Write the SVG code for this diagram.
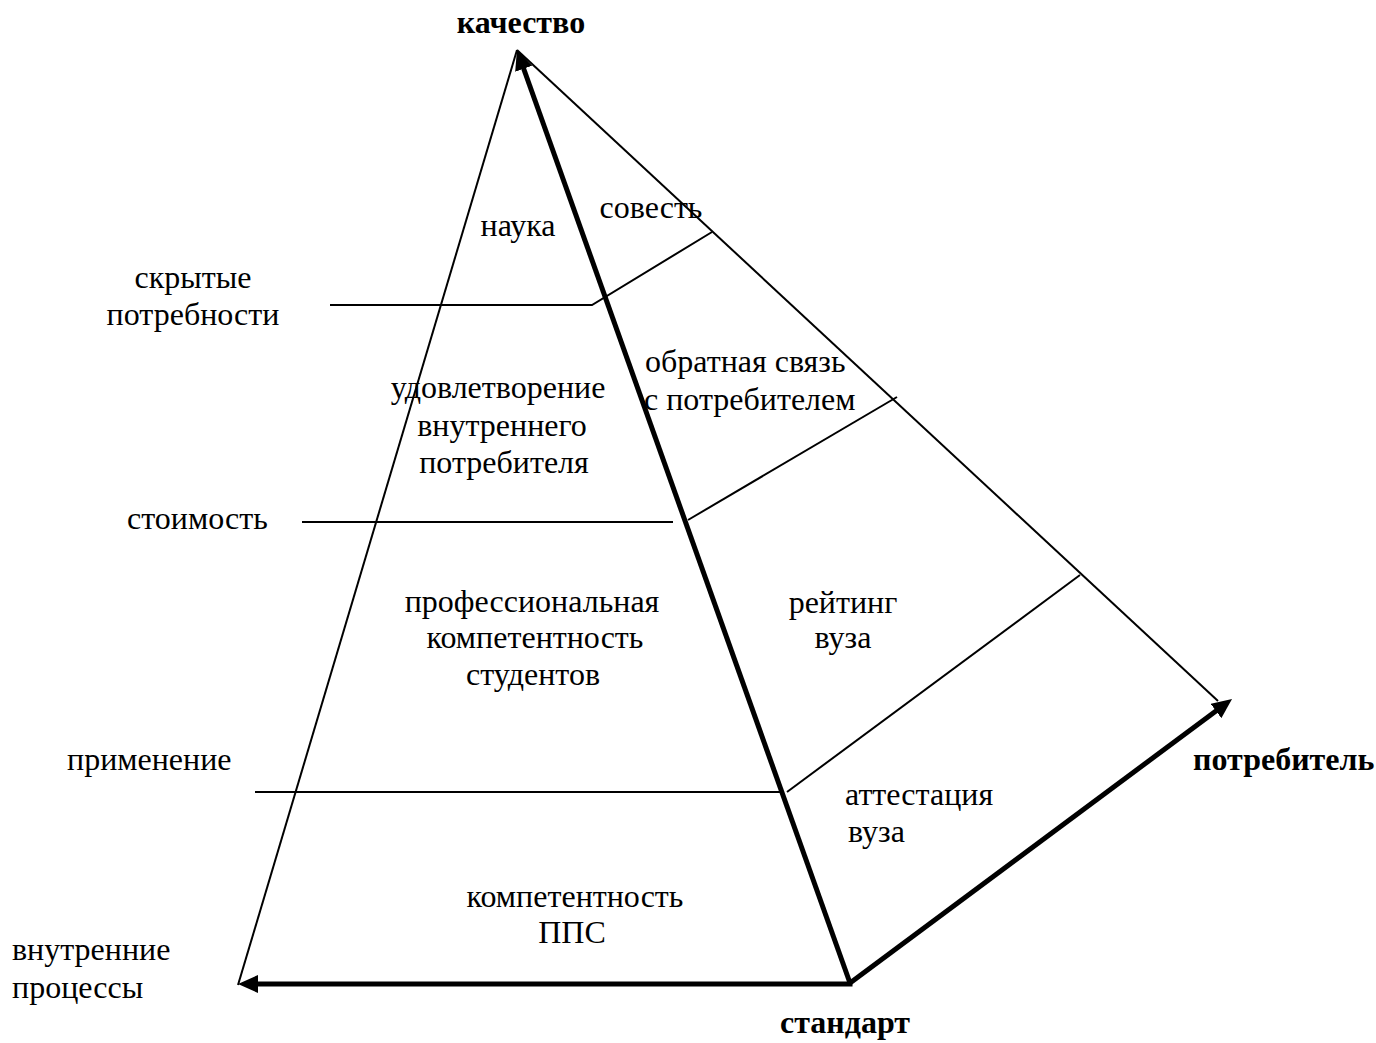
<svg xmlns="http://www.w3.org/2000/svg" width="1376" height="1043" viewBox="0 0 1376 1043">
<style>
text{font-family:"Liberation Serif","Times New Roman",serif;font-size:32px;fill:#000}
.b{font-weight:bold}
.c{text-anchor:middle}
.thin{stroke:#000;stroke-width:2;fill:none}
.thick{stroke:#000;stroke-width:5;fill:none;marker-end:url(#ah)}
</style>
<defs>
<marker id="ah" markerUnits="userSpaceOnUse" markerWidth="20" markerHeight="18" refX="5" refY="9" orient="auto">
<path d="M0,0 L20,9 L0,18 z" fill="#000"/>
</marker>
</defs>
<rect width="1376" height="1043" fill="#fff"/>
<g id="connectors">
<line class="thin" x1="517" y1="50" x2="238" y2="985"/>
<line class="thin" x1="517" y1="50" x2="1218" y2="701"/>
<polyline class="thin" points="330,305 592,305 712,232"/>
<line class="thin" x1="302" y1="522" x2="673" y2="522"/>
<line class="thin" x1="688" y1="520" x2="897" y2="397"/>
<line class="thin" x1="255" y1="792" x2="783" y2="792"/>
<line class="thin" x1="787" y1="792" x2="1080" y2="575"/>
<line class="thick" x1="850" y1="983" x2="522" y2="64"/>
<line class="thick" x1="850" y1="983" x2="1220" y2="708"/>
<polyline class="thick" points="850,983 850,984 253,984" style="stroke-linejoin:miter"/>
</g>
<g id="axis-kachestvo"><text class="b c" x="521" y="33">качество</text></g>
<g id="axis-potrebitel"><text class="b" x="1193" y="770">потребитель</text></g>
<g id="axis-standart"><text class="b c" x="845" y="1033">стандарт</text></g>
<g id="axis-vnutr"><text x="12" y="960">внутренние</text><text x="12" y="998">процессы</text></g>
<g id="lvl-skrytye"><text class="c" x="193" y="288">скрытые</text><text class="c" x="193" y="325">потребности</text></g>
<g id="lvl-stoimost"><text x="127" y="529">стоимость</text></g>
<g id="lvl-primenenie"><text x="67" y="770">применение</text></g>
<g id="n-nauka"><text class="c" x="518" y="236">наука</text></g>
<g id="n-sovest"><text class="c" x="651" y="218">совесть</text></g>
<g id="n-udovl"><text class="c" x="498" y="398">удовлетворение</text><text class="c" x="502" y="436">внутреннего</text><text class="c" x="504" y="473">потребителя</text></g>
<g id="n-obratnaya"><text x="645" y="372">обратная связь</text><text x="644" y="410">с потребителем</text></g>
<g id="n-prof"><text class="c" x="532" y="612">профессиональная</text><text class="c" x="535" y="648">компетентность</text><text class="c" x="533" y="685">студентов</text></g>
<g id="n-reiting"><text class="c" x="843" y="613">рейтинг</text><text class="c" x="843" y="648">вуза</text></g>
<g id="n-attest"><text x="845" y="805">аттестация</text><text x="848" y="842">вуза</text></g>
<g id="n-pps"><text class="c" x="575" y="907">компетентность</text><text class="c" x="572" y="943">ППС</text></g>
</svg>
